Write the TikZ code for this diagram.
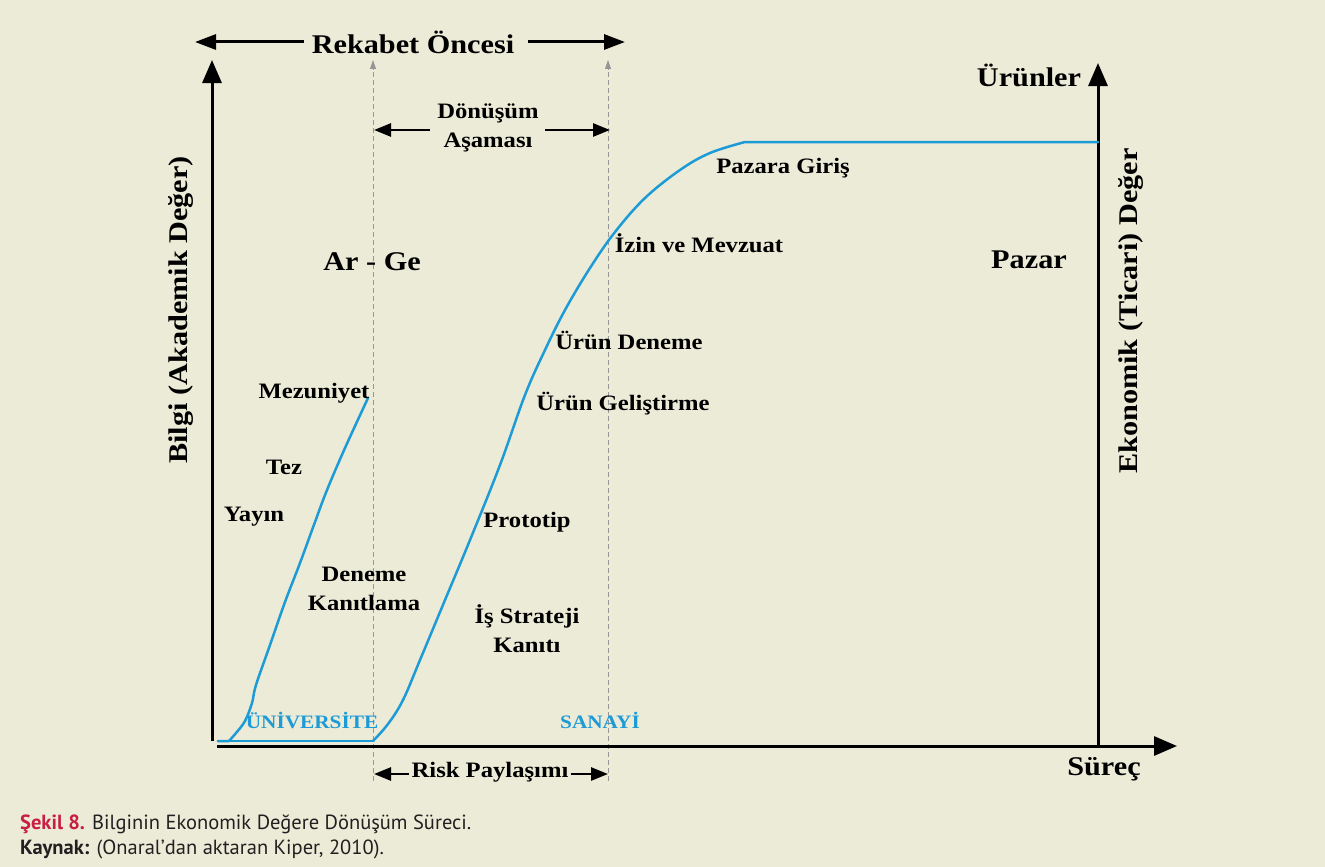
\documentclass[tikz,border=0pt]{standalone}
\usepackage{fontspec}
\setmainfont{Liberation Serif}[FakeStretch=1.12]
\newfontfamily\capfont{PT Sans}
\usetikzlibrary{arrows.meta}
\definecolor{bg}{RGB}{236,235,216}
\definecolor{curveblue}{RGB}{29,155,214}
\definecolor{capred}{RGB}{200,30,70}
\definecolor{captext}{RGB}{35,31,32}
\definecolor{dashgray}{RGB}{150,150,150}
\begin{document}
\begin{tikzpicture}[x=1pt,y=-1pt,
 lbl/.style={font=\fontsize{22}{29}\selectfont\bfseries, inner sep=0pt, align=center},
 big/.style={font=\fontsize{27}{30}\selectfont\bfseries, inner sep=0pt},
 bluelbl/.style={font=\fontsize{19}{21}\selectfont\bfseries, text=curveblue, inner sep=0pt},
 axisarrow/.style={line width=3pt, -{Triangle[length=23pt,width=19pt]}},
 spanarrow/.style={line width=3pt, -{Triangle[length=21pt,width=15pt]}},
 smallspan/.style={line width=2.6pt, -{Triangle[length=17pt,width=13pt]}},
 guide/.style={dashgray, dash pattern=on 5pt off 3pt, line width=0.8pt, -{Triangle[length=9pt,width=6pt]}},
 curve/.style={curveblue, line width=2.5pt, line join=round, line cap=round},
 capstyle/.style={font=\capfont\fontsize{20.5}{23}\selectfont, text=captext, inner sep=0pt, anchor=west},
]
\useasboundingbox (0,0) rectangle (1325,867);
\fill[bg] (0,0) rectangle (1325,867);

% coordinates
\coordinate (lbot) at (212,741);
\coordinate (ltop) at (212,60);
\coordinate (hstart) at (217,746);
\coordinate (hend) at (1177,746);
\coordinate (rbot) at (1098,746);
\coordinate (rtop) at (1098,63);
\coordinate (g1b) at (373,781);
\coordinate (g1t) at (373,60);
\coordinate (g2b) at (608,781);
\coordinate (g2t) at (608,60);

% dashed guides
\draw[guide] (g1b) -- (g1t);
\draw[guide] (g2b) -- (g2t);

% axes
\draw[axisarrow] (lbot) -- (ltop);
\draw[axisarrow] (hstart) -- (hend);
\draw[axisarrow] (rbot) -- (rtop);

% curves
\draw[curve] (218,741) -- (373,741);
\draw[curve] (218,741) -- (229,741) plot[smooth, tension=0.6] coordinates {(229,741) (236,733) (245,721) (252,703) (256,685) (270,645) (285,602) (300,563) (315,522) (327,490) (345,448) (368,398)};
\draw[curve] (373,741) plot[smooth, tension=0.6] coordinates {(373,741) (388,724) (403,700) (420,660) (445,600) (470,540) (500,465) (525,395) (545,350) (565,310) (590,268) (615,232) (645,198) (680,170) (710,153) (745,142)} -- (1098,142);

% top span: Rekabet Oncesi
\node[big] (rek) at (413,42) {Rekabet Öncesi};
\coordinate (rekL) at (195,42);
\coordinate (rekR) at (625,42);
\draw[spanarrow] ([xshift=-8pt]rek.west) -- (rekL);
\draw[spanarrow] ([xshift=14pt]rek.east) -- (rekR);

% Donusum Asamasi
\node[lbl] (don) at (488,128) {Dönüşüm\\Aşaması};
\coordinate (donL) at (374,130);
\coordinate (donR) at (610,130);
\draw[smallspan] (430,130) -- (donL);
\draw[smallspan] (545,130) -- (donR);

% Risk Paylasimi
\node[lbl] (risk) at (490,772) {Risk Paylaşımı};
\coordinate (riskL) at (374,774);
\coordinate (riskR) at (608,774);
\draw[smallspan] ([xshift=-2pt]risk.west |- riskL) -- (riskL);
\draw[smallspan] ([xshift=2pt]risk.east |- riskR) -- (riskR);

% big labels
\node[big] (arge) at (372,262) {Ar - Ge};
\node[big] (pazar) at (1029,260) {Pazar};
\node[big] (urunler) at (1029,75) {Ürünler};
\node[big] (surec) at (1104,769) {Süreç};
\node[big, rotate=90] (bilgi) at (181,310) {Bilgi (Akademik Değer)};
\node[big, rotate=90] (ekon) at (1131,311) {Ekonomik (Ticari) Değer};

% stage labels
\node[lbl] (mez) at (314,393) {Mezuniyet};
\node[lbl] (tez) at (284,467) {Tez};
\node[lbl] (yay) at (254,517) {Yayın};
\node[lbl] (den) at (364,589) {Deneme\\Kanıtlama};
\node[lbl] (proto) at (527,522) {Prototip};
\node[lbl] (isstr) at (527,629) {İş Strateji\\Kanıtı};
\node[lbl] (gel) at (623,404) {Ürün Geliştirme};
\node[lbl] (urden) at (629,340) {Ürün Deneme};
\node[lbl] (izin) at (699,243) {İzin ve Mevzuat};
\node[lbl] (giris) at (783,168) {Pazara Giriş};

% blue labels
\node[bluelbl] (uni) at (312,720) {ÜNİVERSİTE};
\node[bluelbl] (san) at (600,720) {SANAYİ};

% caption
\node[capstyle] (cap1) at (20,824) {\textcolor{capred}{\bfseries Şekil 8.} Bilginin Ekonomik Değere Dönüşüm Süreci.};
\node[capstyle] (cap2) at (20,849) {{\bfseries Kaynak:} (Onaral’dan aktaran Kiper, 2010).};
\end{tikzpicture}
\end{document}
